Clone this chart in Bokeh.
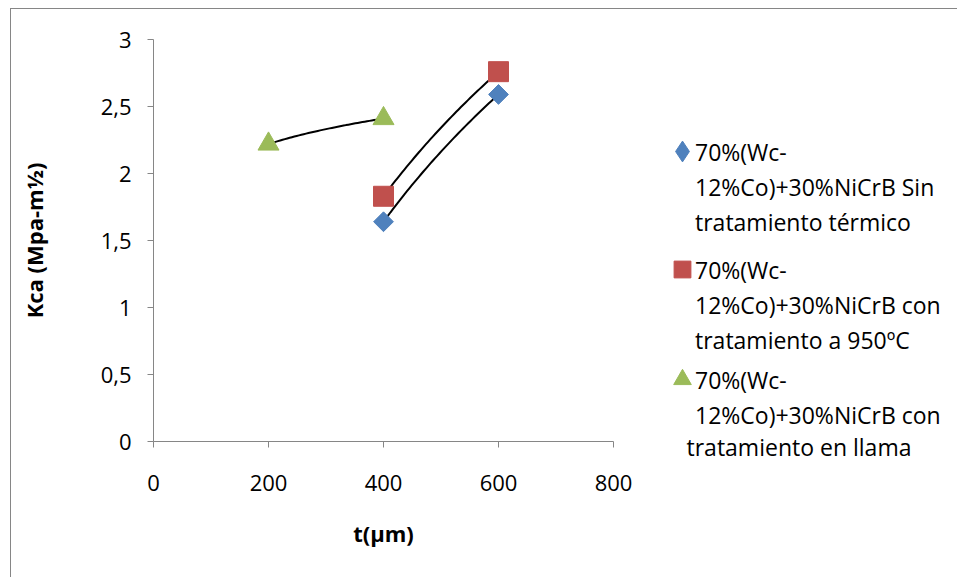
import numpy as np
from bokeh.plotting import figure
from bokeh.layouts import row
from bokeh.models import (Range1d, FixedTicker, CustomJSTickFormatter, Legend, LegendItem,
                          LinearAxis)
from bokeh.embed import file_html
from bokeh.resources import INLINE

# ---- data ----
x_blue = [400, 600]
y_blue = [1.64, 2.59]
x_red = [400, 600]
y_red = [1.83, 2.76]
x_green = [200, 400]
y_green = [2.22, 2.41]

labels = [
    ["70%(Wc-", "12%Co)+30%NiCrB Sin", "tratamiento térmico"],
    ["70%(Wc-", "12%Co)+30%NiCrB con", "tratamiento a 950ºC"],
    ["70%(Wc-", "12%Co)+30%NiCrB con", "tratamiento en llama"],
]
x_ticks = [0, 200, 400, 600, 800]
y_ticks = [0, 0.5, 1, 1.5, 2, 2.5, 3]
x_title = "t(μm)"
y_title = "Kca (Mpa-m½)"

BLUE = "#4F81BD"
RED = "#C0504D"
GREEN = "#9BBB59"
AXIS = "#868686"
FONT = "Open Sans"
FS = "22px"
FS_LEG = "23px"

OX, OY = 10, 8              # offset of the chart's outer border
SPLIT = 640                 # x where the legend column starts
H = 577 - OY
W1 = SPLIT - OX
W2 = 957 - SPLIT
FL, FR, FT, FB = 152 - OX, 612 - OX, 38 - OY, 440 - OY
FRAME_BOTTOM = 440          # canvas y of the (aligned) frame bottoms

# ---------------- main plot ----------------
p = figure(width=W1, height=H, output_backend="svg", toolbar_location=None,
           x_range=Range1d(0, 800), y_range=Range1d(0, 3),
           min_border_left=FL, min_border_right=W1 - FR,
           min_border_top=FT, min_border_bottom=H - FB)
p.margin = (OY, 0, 0, OX)
p.styles = {"border-left": f"1px solid {AXIS}", "border-top": f"1px solid {AXIS}",
            "box-sizing": "border-box"}
p.outline_line_color = None
p.grid.visible = False
p.background_fill_color = "white"
p.border_fill_color = "white"

for ax in (p.xaxis[0], p.yaxis[0]):
    ax.axis_line_color = AXIS
    ax.major_tick_line_color = AXIS
    ax.minor_tick_line_color = None
    ax.major_tick_in = 0
    ax.major_tick_out = 6
    ax.major_label_text_font = FONT
    ax.major_label_text_font_size = FS
    ax.major_label_text_color = "black"
    ax.axis_label_text_font = FONT
    ax.axis_label_text_font_size = FS
    ax.axis_label_text_font_style = "bold"
    ax.axis_label_text_color = "black"

p.xaxis.ticker = FixedTicker(ticks=x_ticks)
p.yaxis.ticker = FixedTicker(ticks=y_ticks)
p.yaxis.formatter = CustomJSTickFormatter(code="return tick.toString().replace('.', ',');")
p.xaxis.axis_label = x_title
p.yaxis.axis_label = y_title
p.xaxis.major_label_standoff = 27
p.yaxis.major_label_standoff = 16
p.xaxis.axis_label_standoff = 24
p.yaxis.axis_label_standoff = 49


def log_trend(xs, ys):
    a = (ys[1] - ys[0]) / np.log(xs[1] / xs[0])
    b = ys[0] - a * np.log(xs[0])
    xx = np.linspace(xs[0], xs[1], 50)
    return xx, a * np.log(xx) + b


for xs, ys in ((x_blue, y_blue), (x_red, y_red), (x_green, y_green)):
    tx, ty = log_trend(xs, ys)
    p.line(tx, ty, line_color="black", line_width=2)

p.scatter(x_blue, y_blue, marker="square", size=14, angle=np.pi / 4,
          fill_color=BLUE, line_color=BLUE)
p.scatter(x_red, y_red, marker="square", size=20, fill_color=RED, line_color=RED)
p.scatter(x_green, y_green, marker="triangle", size=21,
          fill_color=GREEN, line_color=GREEN)

# ---------------- legend column ----------------
q = figure(width=W2, height=H, output_backend="svg", toolbar_location=None,
           x_range=Range1d(-2, -1), y_range=Range1d(-2, -1),
           x_axis_type=None, y_axis_type=None, min_border=0)
q.margin = (OY, 0, 0, 0)
q.styles = {"border-top": f"1px solid {AXIS}", "box-sizing": "border-box"}
q.outline_line_color = None
q.grid.visible = False
q.background_fill_color = "white"
q.border_fill_color = "white"

# proxies (outside q's ranges, so only their legend glyphs show)
g_blue = q.scatter(x_blue, y_blue, marker="diamond", fill_color=BLUE, line_color=BLUE)
g_red = q.scatter(x_red, y_red, marker="square", fill_color=RED, line_color=RED)
g_green = q.scatter(x_green, y_green, marker="triangle", fill_color=GREEN, line_color=GREEN)
g_blank = q.scatter(x_blue, y_blue, marker="square", fill_alpha=0, line_alpha=0)

first_line_y = [150, 268, 378]      # canvas y of each entry's first text line
marker_box = [52, 42, 44]           # legend glyph box -> marker size = 0.4 * box
marker_cx = 682
text_x = 695
pitch = 35


def style_text_legend(lg):
    lg.glyph_width = 1
    lg.glyph_height = pitch
    lg.label_height = pitch
    lg.label_standoff = 0
    lg.spacing = 0
    lg.padding = 0
    lg.margin = 0
    lg.border_line_color = None
    lg.background_fill_alpha = 0
    lg.label_text_font = FONT
    lg.label_text_font_size = FS_LEG
    lg.label_text_color = "black"


for k, (g, lines, y0, box) in enumerate(zip((g_blue, g_red, g_green), labels,
                                            first_line_y, marker_box)):
    lm = Legend(items=[LegendItem(label=" ", renderers=[g])],
                location=(marker_cx - box // 2 - SPLIT, FRAME_BOTTOM - (y0 + box // 2)))
    lm.glyph_width = box
    lm.glyph_height = box
    lm.label_height = box
    lm.label_standoff = 0
    lm.padding = 0
    lm.margin = 0
    lm.border_line_color = None
    lm.background_fill_alpha = 0
    lm.label_text_font_size = FS_LEG
    q.add_layout(lm, "center")
    inner = lines if k < 2 else lines[:2]
    top = y0 - pitch // 2
    lt = Legend(items=[LegendItem(label=ln, renderers=[g_blank]) for ln in inner],
                location=(text_x - 1 - SPLIT, FRAME_BOTTOM - (top + len(inner) * pitch)))
    style_text_legend(lt)
    q.add_layout(lt, "center")

# the last legend line lies below the frame: show it as q's bottom-axis title
px_per_unit = W2 / 1.0
text_w = 224
c = -2 + (text_x + text_w / 2 - SPLIT) / px_per_unit
bottom_ax = LinearAxis(ticker=FixedTicker(ticks=[]), axis_label=labels[2][2],
                       bounds=(c - 0.3, c + 0.3))
bottom_ax.axis_line_color = None
bottom_ax.major_tick_line_color = None
bottom_ax.minor_tick_line_color = None
bottom_ax.major_tick_in = 0
bottom_ax.major_tick_out = 0
bottom_ax.major_label_standoff = 0
bottom_ax.axis_label_standoff = -11
bottom_ax.axis_label_text_font = FONT
bottom_ax.axis_label_text_font_size = FS_LEG
bottom_ax.axis_label_text_font_style = "normal"
bottom_ax.axis_label_text_color = "black"
q.add_layout(bottom_ax, "below")

layout = row(p, q)
open("out.html", "w").write(file_html(layout, INLINE))
